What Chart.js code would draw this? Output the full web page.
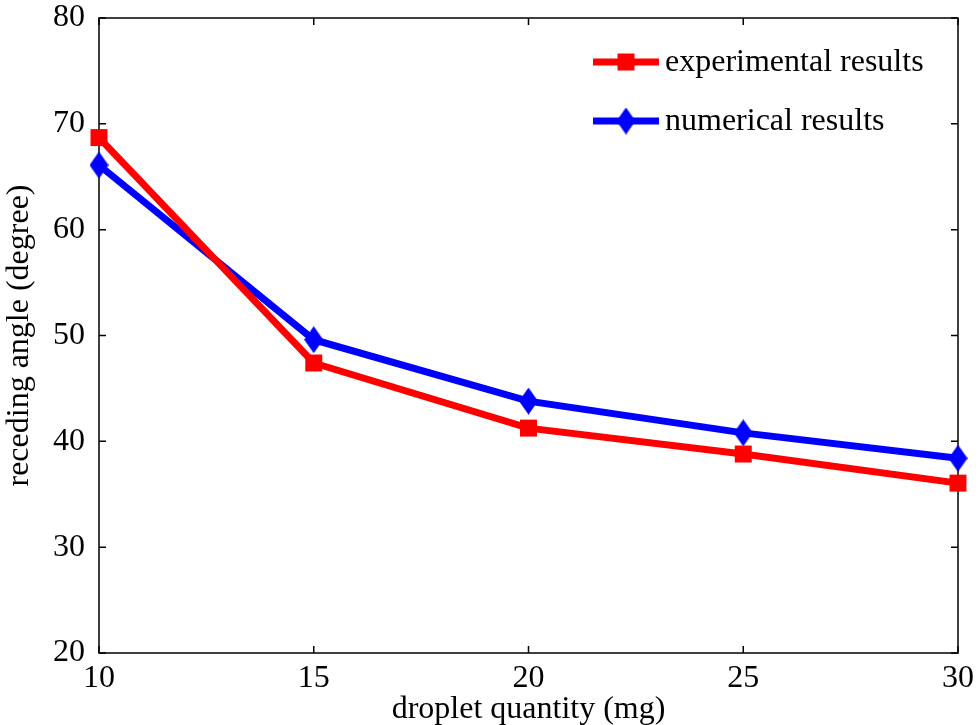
<!DOCTYPE html>
<html lang="en">
<head>
  <meta charset="UTF-8">
  <title>Receding angle vs droplet quantity</title>
  <script src="https://cdn.jsdelivr.net/npm/chart.js"></script>
  <style>
    html, body { margin: 0; padding: 0; background: #fff; }
    #wrap { width: 978px; height: 725px; }
  </style>
</head>
<body>
  <div id="wrap"><canvas id="chart" width="978" height="725"></canvas></div>

  <script>
    const quantity = [10, 15, 20, 25, 30];
    const experimental = [68.7, 47.4, 41.25, 38.8, 36.05];
    const numerical = [66.1, 49.6, 43.8, 40.8, 38.4];
    const xTicks = [10, 15, 20, 25, 30];
    const yTicks = [20, 30, 40, 50, 60, 70, 80];

    const serif = "'Liberation Serif', 'DejaVu Serif', serif";

    // tall diamond marker like matlab's 'd'
    function makeDiamond(w, h, color) {
      const c = document.createElement('canvas');
      c.width = w; c.height = h;
      const g = c.getContext('2d');
      g.fillStyle = color;
      g.beginPath();
      g.moveTo(w / 2, 0); g.lineTo(w, h / 2);
      g.lineTo(w / 2, h); g.lineTo(0, h / 2);
      g.closePath();
      g.fill();
      return c;
    }
    const diamond = makeDiamond(19, 27, '#0000ff');

    // frame around the plot with inward ticks on all four sides
    const boxTicks = {
      id: 'boxTicks',
      beforeDatasetsDraw(chart) {
        const { ctx, chartArea: a, scales } = chart;
        const len = 7;
        ctx.save();
        ctx.strokeStyle = '#000';
        ctx.lineWidth = 1.5;
        ctx.strokeRect(a.left, a.top, a.right - a.left, a.bottom - a.top);
        ctx.beginPath();
        yTicks.forEach(v => {
          const y = scales.y.getPixelForValue(v);
          ctx.moveTo(a.left, y); ctx.lineTo(a.left + len, y);
          ctx.moveTo(a.right, y); ctx.lineTo(a.right - len, y);
        });
        xTicks.forEach(v => {
          const x = scales.x.getPixelForValue(v);
          ctx.moveTo(x, a.bottom); ctx.lineTo(x, a.bottom - len);
          ctx.moveTo(x, a.top); ctx.lineTo(x, a.top + len);
        });
        ctx.stroke();
        ctx.restore();
      }
    };

    // legend drawn inside the plot, top right, no box
    const innerLegend = {
      id: 'innerLegend',
      afterDraw(chart) {
        const { ctx } = chart;
        const x0 = 593, lineLen = 66;
        const rows = [62, 121];
        ctx.save();
        chart.data.datasets.forEach((ds, i) => {
          const y = rows[i];
          ctx.strokeStyle = ds.borderColor;
          ctx.lineWidth = ds.borderWidth;
          ctx.beginPath();
          ctx.moveTo(x0, y); ctx.lineTo(x0 + lineLen, y);
          ctx.stroke();
          const cx = x0 + lineLen / 2;
          if (ds.pointStyle === 'rect') {
            ctx.fillStyle = ds.backgroundColor;
            ctx.fillRect(cx - 8.5, y - 8.5, 17, 17);
          } else {
            ctx.drawImage(ds.pointStyle, cx - ds.pointStyle.width / 2, y - ds.pointStyle.height / 2);
          }
          ctx.fillStyle = '#000';
          ctx.font = '32px ' + serif;
          ctx.textBaseline = 'middle';
          ctx.fillText(ds.label, x0 + lineLen + 6, y + 1);
        });
        ctx.restore();
      }
    };

    new Chart(document.getElementById('chart'), {
      type: 'line',
      data: {
        labels: quantity,
        datasets: [
          {
            label: 'experimental results',
            data: experimental,
            borderColor: '#ff0000',
            backgroundColor: '#ff0000',
            borderWidth: 7,
            pointStyle: 'rect',
            pointRadius: 12,
            pointBorderWidth: 0,
            tension: 0,
            clip: false
          },
          {
            label: 'numerical results',
            data: numerical,
            borderColor: '#0000ff',
            backgroundColor: '#0000ff',
            borderWidth: 7,
            pointStyle: diamond,
            pointRadius: 13,
            pointBorderWidth: 0,
            tension: 0,
            clip: false
          }
        ]
      },
      options: {
        responsive: false,
        animation: false,
        layout: { padding: { top: 18, right: 20, left: 0, bottom: 0 } },
        plugins: { legend: { display: false }, tooltip: { enabled: false } },
        scales: {
          x: {
            type: 'linear',
            min: 10, max: 30,
            afterBuildTicks: s => { s.ticks = xTicks.map(v => ({ value: v })); },
            afterFit: s => { s.height = 72; s.paddingLeft = 0; s.paddingRight = 0; },
            grid: { display: false },
            border: { display: false },
            ticks: { color: '#000', font: { family: serif, size: 32 }, padding: -2, maxRotation: 0 },
            title: {
              display: true, text: 'droplet quantity (mg)', color: '#000',
              font: { family: serif, size: 32 }, padding: { top: 0, bottom: -4 }
            }
          },
          y: {
            min: 20, max: 80,
            afterBuildTicks: s => { s.ticks = yTicks.map(v => ({ value: v })); },
            afterFit: s => { s.width = 99; s.paddingTop = 0; s.paddingBottom = 0; },
            grid: { display: false },
            border: { display: false },
            ticks: { color: '#000', font: { family: serif, size: 32 }, padding: 6 },
            title: {
              display: true, text: 'receding angle (degree)', color: '#000',
              font: { family: serif, size: 32 }, padding: { top: 0, bottom: 0 }
            }
          }
        }
      },
      plugins: [boxTicks, innerLegend]
    });
  </script>
</body>
</html>
